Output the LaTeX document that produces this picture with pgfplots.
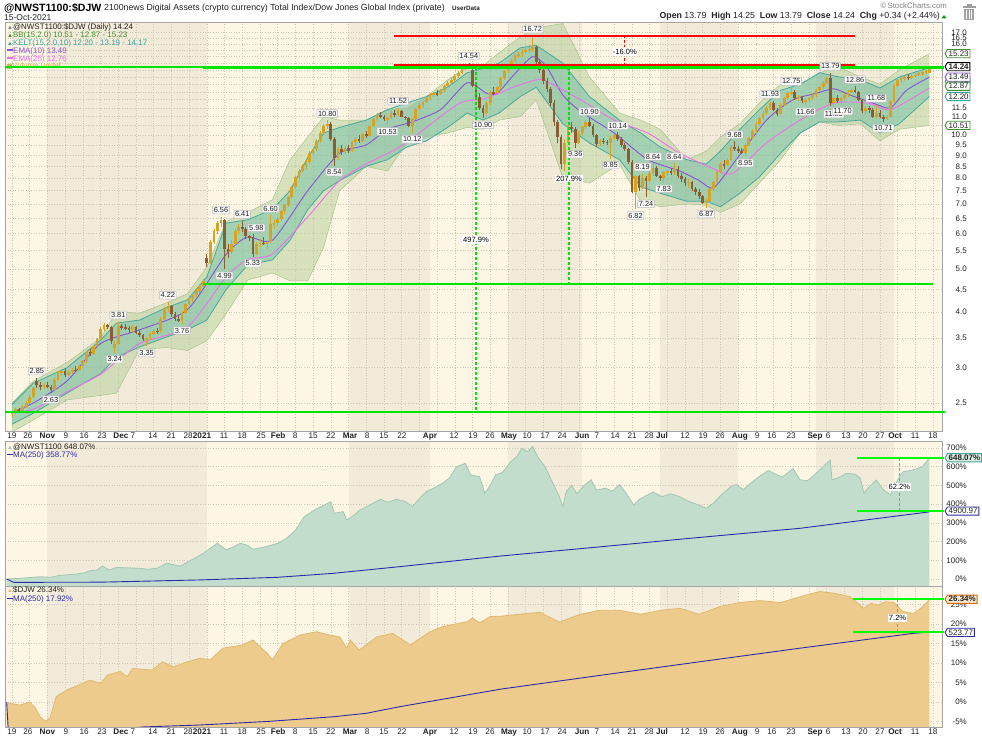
\documentclass[border=0pt]{standalone}
\usepackage{fontspec}
\setmainfont{Liberation Sans}
\usepackage{pgfplots}
\pgfplotsset{compat=1.18}
\usepackage{pgfplotstable}
\usetikzlibrary{shapes.symbols}

\definecolor{bglight}{HTML}{FDF6E4}
\definecolor{bgdark}{HTML}{F3EBDA}
\definecolor{gridc}{HTML}{CFC7B5}
\definecolor{upc}{HTML}{D6A322}
\definecolor{dnc}{HTML}{8A5E35}
\definecolor{bbfill}{HTML}{B3CF98}
\definecolor{bbline}{HTML}{A6C48C}
\definecolor{kcfill}{HTML}{5FBAA2}
\definecolor{kcline}{HTML}{46A89E}
\definecolor{emaA}{HTML}{8A52D6}
\definecolor{emaB}{HTML}{EE6FEE}
\definecolor{limeg}{HTML}{00E400}
\definecolor{nwfill}{HTML}{C3DDCC}
\definecolor{nwline}{HTML}{A0C7B3}
\definecolor{djfill}{HTML}{EDCB8C}
\definecolor{djline}{HTML}{E0B96F}
\definecolor{mablue}{HTML}{2B2BAA}
\definecolor{axgray}{HTML}{A5A5A5}
\definecolor{txt}{HTML}{222222}
\definecolor{bbtext}{HTML}{3F8F2F}
\definecolor{kctext}{HTML}{36A3A0}
\definecolor{volc}{HTML}{D9B24A}

\pgfplotstableread{
x o h l c
0.0 2.36 2.40 2.33 2.38
0.2 2.38 2.44 2.36 2.42
0.4 2.42 2.43 2.37 2.39
0.6 2.39 2.47 2.38 2.45
0.8 2.45 2.52 2.44 2.50
1.0 2.50 2.60 2.49 2.58
1.2 2.58 2.72 2.56 2.70
1.4 2.80 2.85 2.70 2.74
1.6 2.74 2.78 2.68 2.72
1.8 2.72 2.77 2.69 2.74
2.0 2.74 2.78 2.70 2.71
2.2 2.71 2.74 2.63 2.68
2.4 2.68 2.84 2.67 2.82
2.6 2.82 2.95 2.80 2.92
2.8 2.92 2.98 2.88 2.95
3.0 2.95 3.00 2.86 2.89
3.2 2.89 2.96 2.87 2.94
3.4 2.94 3.00 2.90 2.97
3.6 2.97 3.02 2.93 2.96
3.8 2.96 3.05 2.95 3.03
4.0 3.03 3.12 3.01 3.10
4.2 3.10 3.28 3.08 3.25
4.4 3.25 3.30 3.18 3.22
4.6 3.22 3.38 3.20 3.35
4.8 3.35 3.50 3.33 3.48
5.0 3.48 3.70 3.46 3.66
5.2 3.66 3.78 3.62 3.74
5.4 3.74 3.77 3.66 3.70
5.6 3.70 3.72 3.40 3.45
5.8 3.32 3.44 3.24 3.40
6.0 3.40 3.81 3.38 3.72
6.2 3.72 3.76 3.64 3.70
6.4 3.70 3.76 3.64 3.68
6.6 3.68 3.72 3.60 3.64
6.8 3.64 3.74 3.60 3.71
7.0 3.71 3.73 3.58 3.60
7.2 3.60 3.64 3.52 3.55
7.4 3.55 3.58 3.45 3.48
7.6 3.48 3.52 3.35 3.50
7.8 3.50 3.60 3.46 3.58
8.0 3.58 3.66 3.55 3.63
8.2 3.63 3.68 3.58 3.62
8.4 3.62 3.90 3.60 3.86
8.6 3.86 4.10 3.84 4.06
8.8 4.06 4.22 4.00 4.12
9.0 4.12 4.15 3.90 3.96
9.2 3.96 4.00 3.82 3.86
9.4 3.86 3.92 3.80 3.84
9.6 3.84 4.02 3.76 3.98
9.8 3.98 4.20 3.96 4.18
10.0 4.18 4.35 4.15 4.30
10.2 4.30 4.40 4.22 4.36
10.4 4.36 4.50 4.32 4.46
10.6 4.46 4.62 4.42 4.58
10.8 4.58 4.75 4.55 4.70
11.0 5.30 5.40 5.05 5.15
11.2 5.15 5.80 5.12 5.75
11.4 5.75 6.15 5.70 6.10
11.6 6.10 6.40 6.00 6.35
11.8 6.35 6.56 6.20 6.45
12.0 6.45 6.48 4.99 5.55
12.2 5.55 5.70 5.30 5.45
12.4 5.45 5.80 5.40 5.70
12.6 5.70 6.15 5.65 6.10
12.8 6.10 6.30 6.00 6.20
13.0 6.20 6.41 6.05 6.15
13.2 6.15 6.20 5.85 5.92
13.4 5.92 5.96 5.78 5.90
13.6 5.90 5.98 5.33 5.40
13.8 5.40 5.75 5.38 5.70
14.0 5.70 5.85 5.60 5.72
14.2 5.72 5.90 5.65 5.70
14.4 5.70 5.80 5.55 5.75
14.6 5.75 6.60 5.72 6.30
14.8 6.30 6.45 6.15 6.35
15.0 6.35 6.55 6.25 6.48
15.2 6.48 6.80 6.42 6.75
15.4 6.75 7.00 6.65 6.95
15.6 6.95 7.30 6.90 7.25
15.8 7.25 7.70 7.20 7.65
16.0 7.65 8.10 7.60 8.05
16.2 8.05 8.40 7.95 8.30
16.4 8.30 8.60 8.20 8.50
16.6 8.50 8.80 8.40 8.70
16.8 8.70 9.20 8.60 9.10
17.0 9.10 9.40 9.00 9.30
17.2 9.30 9.80 9.20 9.70
17.4 9.70 10.20 9.60 10.10
17.6 10.10 10.60 10.00 10.50
17.8 10.50 10.80 10.30 10.60
18.0 10.60 10.70 9.70 9.80
18.2 9.80 9.90 8.54 8.90
18.4 8.90 9.40 8.80 9.30
18.6 9.30 9.50 9.00 9.15
18.8 9.15 9.45 9.05 9.35
19.0 9.35 9.50 9.10 9.20
19.2 9.20 9.70 9.15 9.65
19.4 9.65 9.90 9.50 9.80
19.6 9.80 10.00 9.60 9.70
19.8 9.70 10.10 9.65 10.05
20.0 10.05 10.20 9.85 9.95
20.2 9.95 10.50 9.90 10.45
20.4 10.45 10.90 10.40 10.85
20.6 10.85 11.20 10.75 11.10
20.8 11.10 11.25 10.90 11.00
21.0 11.00 11.10 10.75 10.85
21.2 10.85 11.00 10.53 10.90
21.4 10.90 11.30 10.85 11.20
21.6 11.20 11.35 11.00 11.10
21.8 11.10 11.52 11.05 11.30
22.0 11.30 11.35 10.95 11.00
22.2 11.00 11.05 10.80 10.90
22.4 10.90 11.00 10.40 10.50
22.6 10.50 10.90 10.12 10.85
22.8 10.85 11.50 10.80 11.45
23.0 11.45 11.80 11.40 11.70
23.2 11.70 11.90 11.50 11.85
23.4 11.85 12.20 11.80 12.10
23.6 12.10 12.40 12.00 12.30
23.8 12.30 12.50 12.20 12.40
24.0 12.40 12.60 12.25 12.35
24.2 12.35 12.70 12.30 12.60
24.4 12.60 12.95 12.50 12.85
24.6 12.85 13.20 12.75 13.10
24.8 13.10 13.40 12.95 13.30
25.0 13.30 13.70 13.20 13.60
25.2 13.60 13.90 13.45 13.80
25.4 13.80 14.30 13.70 14.20
25.6 14.20 14.40 14.00 14.30
25.8 14.30 14.54 14.10 14.20
26.0 14.00 14.05 12.80 12.90
26.2 12.90 13.00 12.10 12.20
26.4 12.20 12.40 11.40 11.50
26.6 11.50 11.70 10.90 11.20
26.8 11.20 11.90 11.10 11.80
27.0 11.80 12.60 11.70 12.50
27.2 12.50 12.80 12.30 12.40
27.4 12.40 12.90 12.30 12.80
27.6 12.80 13.50 12.70 13.40
27.8 13.40 14.00 13.30 13.90
28.0 13.90 14.40 13.80 14.30
28.2 14.30 14.80 14.10 14.70
28.4 14.70 15.20 14.60 15.10
28.6 15.10 15.40 14.90 15.20
28.8 15.20 15.60 15.00 15.40
29.0 15.40 15.70 15.20 15.55
29.2 15.55 15.90 15.30 15.60
29.4 15.60 16.72 15.40 15.80
29.6 15.80 15.85 14.40 14.60
29.8 14.60 14.80 13.80 14.00
30.0 14.00 14.20 13.00 13.20
30.2 13.20 13.40 12.50 12.70
30.4 12.70 12.80 11.60 11.80
30.6 11.80 12.00 10.50 10.70
30.8 10.70 10.80 9.60 9.90
31.0 9.90 10.00 8.40 8.60
31.2 8.60 9.80 8.30 9.60
31.4 9.60 10.60 9.50 10.40
31.6 10.40 10.70 10.10 10.30
31.8 10.30 10.40 9.36 9.60
32.0 9.60 10.20 9.55 10.10
32.2 10.10 10.50 10.00 10.40
32.4 10.40 10.80 10.30 10.70
32.6 10.70 10.90 10.40 10.50
32.8 10.50 10.60 9.90 10.00
33.0 10.00 10.05 9.40 9.55
33.2 9.55 9.80 9.45 9.70
33.4 9.70 9.85 9.55 9.65
33.6 9.65 9.75 9.50 9.60
33.8 9.60 9.95 8.85 9.85
34.0 9.85 10.05 9.75 10.00
34.2 10.00 10.14 9.70 9.80
34.4 9.80 9.90 9.40 9.50
34.6 9.50 9.60 9.20 9.30
34.8 9.30 9.35 8.60 8.70
35.0 8.70 8.80 7.40 7.45
35.2 7.45 8.15 6.82 8.10
35.4 8.10 8.15 7.50 7.60
35.6 7.60 8.19 7.55 8.00
35.8 8.00 8.10 7.24 7.90
36.0 7.90 8.30 7.85 8.20
36.2 8.20 8.64 8.10 8.45
36.4 8.45 8.50 8.05 8.10
36.6 8.10 8.15 7.90 8.00
36.8 8.00 8.30 7.83 8.25
37.0 8.25 8.40 8.10 8.30
37.2 8.30 8.45 8.15 8.20
37.4 8.20 8.64 8.15 8.40
37.6 8.40 8.50 8.00 8.10
37.8 8.10 8.20 7.85 7.95
38.0 7.95 8.05 7.70 7.80
38.2 7.80 7.95 7.60 7.85
38.4 7.85 7.90 7.50 7.55
38.6 7.55 7.65 7.35 7.45
38.8 7.45 7.55 7.20 7.30
39.0 7.30 7.35 7.00 7.05
39.2 7.05 7.20 6.87 7.10
39.4 7.10 7.60 7.05 7.55
39.6 7.55 7.90 7.50 7.85
39.8 7.85 8.35 7.80 8.30
40.0 8.30 8.70 8.20 8.60
40.2 8.60 8.80 8.40 8.55
40.4 8.55 8.90 8.50 8.80
40.6 8.80 9.50 8.75 9.40
40.8 9.40 9.68 9.20 9.30
41.0 9.30 9.45 9.10 9.20
41.2 9.20 9.35 9.05 9.10
41.4 9.10 9.60 8.95 9.50
41.6 9.50 9.90 9.45 9.85
41.8 9.85 10.30 9.80 10.20
42.0 10.20 10.70 10.10 10.60
42.2 10.60 11.00 10.50 10.90
42.4 10.90 11.30 10.80 11.20
42.6 11.20 11.60 11.10 11.50
42.8 11.50 11.93 11.40 11.80
43.0 11.80 11.90 11.30 11.40
43.2 11.40 11.50 11.05 11.15
43.4 11.15 11.80 11.10 11.70
43.6 11.70 12.20 11.60 12.10
43.8 12.10 12.50 12.00 12.40
44.0 12.40 12.75 12.30 12.50
44.2 12.50 12.60 12.00 12.10
44.4 12.10 12.30 11.90 12.20
44.6 12.20 12.25 11.80 11.90
44.8 11.90 12.10 11.66 12.00
45.0 12.00 12.20 11.85 12.10
45.2 12.10 12.40 12.00 12.30
45.4 12.30 12.70 12.20 12.60
45.6 12.60 12.90 12.50 12.80
45.8 12.80 13.20 12.70 13.10
46.0 13.10 13.50 13.00 13.40
46.2 13.40 13.79 11.60 11.80
46.4 11.80 12.20 11.53 12.10
46.6 12.10 12.30 11.80 11.95
46.8 11.95 12.20 11.70 12.10
47.0 12.10 12.40 12.00 12.30
47.2 12.30 12.60 12.20 12.50
47.4 12.50 12.70 12.40 12.60
47.6 12.60 12.86 12.40 12.50
47.8 12.50 12.55 11.90 12.00
48.0 12.00 12.05 11.20 11.30
48.2 11.30 11.60 11.10 11.50
48.4 11.50 11.60 11.20 11.40
48.6 11.40 11.50 10.90 11.00
48.8 11.00 11.68 10.90 11.20
49.0 11.20 11.40 10.90 11.00
49.2 11.00 11.10 10.71 10.85
49.4 10.85 11.10 10.80 11.00
49.6 11.00 12.00 10.95 11.90
49.8 11.90 13.00 11.80 12.90
50.0 12.90 13.40 12.80 13.30
50.2 13.30 13.50 13.10 13.40
50.4 13.40 13.60 13.20 13.50
50.6 13.50 13.70 13.30 13.45
50.8 13.45 13.70 13.35 13.60
51.0 13.60 13.80 13.50 13.65
51.2 13.65 13.85 13.55 13.75
51.4 13.75 13.95 13.60 13.85
51.6 13.85 14.00 13.70 13.90
51.8 13.79 14.25 13.79 14.24
}\candles

\pgfplotstableread{
w bbu bbl kcu kcl
0.0 2.50 2.15 2.48 2.24
1.2 2.80 2.29 2.77 2.37
3.1 3.08 2.54 3.00 2.63
5.0 3.50 2.60 3.46 2.91
5.9 4.00 2.63 3.78 3.17
7.2 3.98 3.30 3.84 3.34
8.75 4.20 3.33 4.10 3.52
9.9 4.40 3.28 4.26 3.65
11.0 5.05 3.45 4.80 3.84
12.1 6.40 3.97 6.34 4.50
13.3 6.70 4.72 6.45 5.10
14.7 7.15 4.90 6.80 5.24
15.7 8.80 4.70 7.50 5.80
16.7 9.90 4.70 8.90 6.80
17.6 11.00 5.60 10.10 7.50
18.5 10.80 7.50 10.40 7.90
20.0 10.80 8.50 10.80 8.50
21.2 11.40 8.30 11.40 8.80
22.3 11.50 9.60 11.80 9.40
23.4 12.20 9.90 12.20 9.70
24.6 13.30 10.10 12.80 10.40
25.7 14.20 10.40 13.80 11.20
26.6 14.30 10.30 14.10 10.80
27.5 15.30 10.80 14.50 11.20
28.7 16.60 11.00 15.70 12.20
29.6 17.40 12.00 15.90 12.80
31.1 17.80 8.00 14.50 10.60
32.6 13.50 7.80 12.20 9.60
34.3 11.20 8.60 10.80 8.80
35.5 10.80 7.10 10.10 7.65
36.6 10.30 6.90 9.40 7.40
38.1 8.80 7.00 8.80 7.10
39.2 9.20 6.95 8.60 7.10
40.0 9.90 6.70 9.20 6.90
41.1 10.60 7.00 10.30 7.40
42.2 11.80 7.80 11.40 8.05
43.4 13.00 8.80 12.60 9.10
44.5 13.00 10.10 13.00 10.10
45.6 13.80 10.70 13.80 10.70
46.7 14.20 10.50 13.50 10.70
47.9 13.50 10.60 13.30 10.80
49.0 13.00 9.70 12.75 10.10
50.1 14.00 10.30 13.50 10.60
51.8 15.23 10.51 14.17 12.20
}\bands

\pgfplotstableread{
w e
0.0 2.38
1.2 2.50
3.1 2.80
5.0 3.40
7.2 3.65
9.9 4.05
12.1 5.40
13.3 5.90
14.7 5.80
16.7 7.50
18.5 9.10
20.0 9.50
21.2 10.30
22.6 10.70
24.2 11.40
25.7 13.10
26.8 12.40
27.4 12.40
28.3 13.60
29.4 15.00
30.2 14.20
31.1 12.30
32.1 11.30
34.0 10.10
35.9 8.80
37.7 8.30
38.8 7.90
39.6 7.60
40.7 8.60
42.6 10.80
44.1 12.00
45.4 12.40
46.4 12.70
47.3 12.30
48.6 11.80
49.6 11.50
50.5 12.60
51.8 13.49
}\ematen

\pgfplotstableread{
w e
0.0 2.38
1.2 2.42
3.1 2.65
5.0 2.90
7.2 3.40
9.9 3.70
12.1 4.80
13.3 5.25
14.7 5.40
16.7 6.55
18.5 7.90
20.0 8.60
21.9 9.40
23.4 10.40
25.3 11.80
26.8 12.10
28.3 12.80
29.6 13.30
30.2 13.20
32.1 12.00
34.0 10.80
35.9 10.10
37.7 9.10
39.6 8.40
40.7 8.20
42.6 9.60
44.5 10.80
46.4 11.80
48.3 11.80
49.6 11.40
51.8 12.76
}\ematwentyfive

\pgfplotstableread{
w p
-0.3 0
0.4 3
1.0 8
1.6 12
2.2 9
2.6 18
3.1 22
3.6 26
4.1 33
4.4 44
4.8 48
5.1 69
5.5 48
5.9 62
6.4 60
7.2 57
7.7 52
8.2 58
8.75 84
9.5 69
10.2 105
10.8 137
11.2 165
11.6 191
12.1 155
12.5 172
12.9 191
13.3 180
13.6 159
14.1 168
14.5 177
15.0 190
15.5 218
16.0 260
16.5 333
17.1 370
17.7 399
18.0 413
18.2 351
18.7 360
18.9 315
19.3 340
19.6 365
20.2 395
20.8 426
21.2 410
21.7 426
22.2 415
22.6 386
23.0 430
23.4 467
23.9 490
24.3 511
24.7 540
25.1 600
25.6 618
25.9 556
26.4 547
26.7 458
27.0 500
27.3 556
27.7 570
28.1 620
28.5 655
28.8 700
29.1 680
29.4 708
29.7 650
30.1 600
30.5 520
30.9 440
31.1 385
31.3 470
31.6 500
31.9 455
32.3 500
32.7 530
33.0 475
33.5 485
33.9 470
34.3 505
34.7 455
35.1 395
35.4 425
35.8 445
36.2 465
36.7 440
37.2 455
37.7 440
38.2 415
38.7 398
39.2 378
39.6 405
40.0 445
40.6 495
40.9 505
41.3 478
41.8 520
42.2 548
42.7 580
43.1 560
43.5 545
43.9 575
44.1 590
44.5 530
44.9 525
45.2 547
45.8 600
46.2 636
46.3 529
46.8 547
47.1 565
47.6 560
47.9 538
48.1 458
48.4 493
48.8 529
49.2 476
49.6 449
50.0 529
50.3 573
50.9 583
51.4 600
51.8 648.07
}\nwst

\pgfplotstableread{
w m
-0.3 0
0.1 -18
5.0 -17
10.6 -5
15.0 9
18.1 30
21.9 66
27.6 123
33.0 170
38.0 215
44.5 271
51.8 358.77
}\nwma

\pgfplotstableread{
w p
-0.3 -0.2
0.45 -0.8
1.0 0.0
1.3 -1.4
1.6 -3.8
1.9 -5.0
2.15 -4.0
2.5 1.4
3.1 3.1
3.8 4.4
4.4 5.6
5.0 4.8
5.4 6.9
6.1 7.8
6.5 6.5
6.8 8.6
7.9 8.2
8.5 10.3
9.1 9.0
9.9 10.3
10.6 11.2
11.2 10.8
11.9 13.8
13.0 14.6
13.6 15.9
14.4 12.5
14.7 10.8
15.3 15.0
16.3 17.2
17.2 18.0
17.9 17.2
18.5 16.7
18.9 13.8
19.1 15.9
19.6 13.3
20.6 16.7
21.5 17.6
22.5 14.6
22.9 15.9
23.6 18.0
24.3 19.3
25.7 20.6
26.0 21.5
26.4 20.3
27.0 21.9
27.6 22.0
28.7 22.5
29.8 23.0
30.9 20.5
32.1 22.5
33.2 23.5
34.3 23.5
35.5 22.5
36.6 23.5
37.7 24.0
38.8 22.5
40.0 24.5
41.1 25.5
42.2 26.0
43.4 25.5
44.5 27.0
45.6 28.3
46.4 27.9
47.3 27.0
48.1 24.0
48.5 25.3
48.9 24.8
49.3 25.7
49.8 25.5
50.3 23.2
50.9 22.7
51.4 24.3
51.8 26.34
}\djw

\pgfplotstableread{
w m
-0.3 0
-0.2 -8
5.0 -7.5
7.4 -6.4
10.6 -5.9
14.4 -5.0
18.1 -3.8
20.0 -2.9
21.9 -1.2
27.6 3.3
33.0 6.7
38.0 9.8
44.5 13.8
50.9 17.6
51.8 17.92
}\djma

\tikzset{
  plbl/.style={draw=gray!55, fill=white!96!gray, line width=0.5bp, inner sep=1.2bp,
     font=\fontsize{7.4}{8}\selectfont, text=txt, rounded corners=0.6bp},
  pct/.style={fill=white, inner sep=1bp, font=\fontsize{7.6}{8}\selectfont, text=black},
  rbox/.style={draw=#1, fill=white, line width=0.9bp, inner sep=1.3bp, anchor=west, xshift=2.5bp,
     font=\fontsize{8}{9}\selectfont, text=txt, signal, signal to=west, signal pointer angle=120},
  leg/.style={anchor=base west, inner sep=0pt, font=\fontsize{8}{9}\selectfont},
}
\newcommand{\plhi}[2]{\node[plbl, anchor=south, yshift=2.5bp] at (axis cs:#1,{ln(#2)}) {#2};}
\newcommand{\pllo}[2]{\node[plbl, anchor=north, yshift=-2.5bp] at (axis cs:#1,{ln(#2)}) {#2};}
\newcommand{\monthbands}{%
  \addplot[draw=none, fill=bglight, forget plot] coordinates {(-1,0) (54,0) (54,1) (-1,1)};%
  \addplot[draw=none, fill=bgdark, forget plot] coordinates {(2,0) (11,0) (11,1) (2,1)};%
  \addplot[draw=none, fill=bgdark, forget plot] coordinates {(19,0) (23.6,0) (23.6,1) (19,1)};%
  \addplot[draw=none, fill=bgdark, forget plot] coordinates {(28,0) (32.2,0) (32.2,1) (28,1)};%
  \addplot[draw=none, fill=bgdark, forget plot] coordinates {(36.6,0) (41,0) (41,1) (36.6,1)};%
  \addplot[draw=none, fill=bgdark, forget plot] coordinates {(45.4,0) (49.8,0) (49.8,1) (45.4,1)};%
}

\pgfplotsset{
  bgpanel/.style={scale only axis, width=937bp, xmin=-0.395, xmax=52.51, ymin=0, ymax=1, hide axis},
  panel/.style={
    scale only axis, width=937bp, xmin=-0.395, xmax=52.51,
    clip mode=individual,
    axis line style={draw=axgray, line width=0.6bp},
    major tick length=0pt, minor tick length=0pt,
    minor xtick={0,1,...,52},
    xminorgrids=true, ymajorgrids=true,
    major grid style={draw=gridc, line width=0.5bp, dash pattern=on 1bp off 1.6bp},
    minor grid style={draw=gridc, line width=0.5bp, dash pattern=on 1bp off 1.6bp},
    yticklabel pos=right,
    yticklabel style={anchor=east, xshift=25bp, inner sep=0pt, font=\fontsize{8}{9}\selectfont, text=txt},
    xticklabel style={font=\fontsize{8.2}{9}\selectfont, text=txt, inner sep=1.5bp},
  },
  dates/.style={
    xtick={0,0.9,2,3.05,4.07,5.08,6.15,6.83,7.96,8.98,9.94,10.73,11.97,12.99,14.06,15.02,15.98,17,18.01,19.09,20.05,21,22.02,23.6,24.96,26.03,26.99,28.06,29.08,30.1,31.06,32.19,33.03,34.05,35.01,35.97,36.7,38,39.02,39.98,41.1,42.07,42.91,43.99,45.34,46.08,47.09,48.05,49.01,49.86,50.99,52},
    xticklabels={19,26,\textbf{Nov},9,16,23,\textbf{Dec},7,14,21,28,\textbf{2021},11,18,25,\textbf{Feb},8,15,22,\textbf{Mar},8,15,22,\textbf{Apr},12,19,26,\textbf{May},10,17,24,\textbf{Jun},7,14,21,28,\textbf{Jul},12,19,26,\textbf{Aug},9,16,23,\textbf{Sep},6,13,20,27,\textbf{Oct},11,18},
  },
}

\begin{document}
\begin{tikzpicture}[x=1bp,y=1bp]
\path[use as bounding box] (0,0) rectangle (982,737);
\fill[white] (0,0) rectangle (982,737);

% ---------- header ----------
\node[anchor=base west, inner sep=0pt, font=\bfseries\fontsize{10.6}{12}\selectfont, text=black] at (4,725.5) {@NWST1100:\$DJW};
\node[anchor=base west, inner sep=0pt, font=\fontsize{8.8}{9}\selectfont, text=txt] at (104,726) {2100news Digital Assets (crypto currency) Total Index/Dow Jones Global Index (private)};
\node[anchor=base west, inner sep=0pt, font=\bfseries\fontsize{6.3}{7}\selectfont, text=txt] at (452,726) {UserData};
\node[anchor=base west, inner sep=0pt, font=\fontsize{8.5}{9}\selectfont, text=txt] at (4,716.5) {15-Oct-2021};
\node[anchor=base east, inner sep=0pt, font=\fontsize{7.8}{9}\selectfont, text=gray] at (947,728.5) {\textcopyright\,StockCharts.com};
\node[anchor=base east, inner sep=0pt, font=\fontsize{8.8}{9}\selectfont, text=txt] at (940,718) {\textbf{Open} 13.79 \ \textbf{High} 14.25 \ \textbf{Low} 13.79 \ \textbf{Close} 14.24 \ \textbf{Chg} +0.34 (+2.44\%)};
\fill[green!60!black] (941.5,718.5) -- (946.5,718.5) -- (944,722) -- cycle;
\fill[gray!75] (962.5,729) rectangle (975.5,731);
\fill[gray!75] (966.5,731) rectangle (971.5,733);
\fill[gray!75] (964,716.5) rectangle (974,728.2);
\draw[white, line width=0.8bp] (966.5,718) -- (966.5,727) (969,718) -- (969,727) (971.5,718) -- (971.5,727);

% ---------- month shading behind the three panels ----------
\begin{axis}[bgpanel, at={(5bp,306bp)}, anchor=south west, height=409bp]
\monthbands
\end{axis}
\begin{axis}[bgpanel, at={(5bp,151bp)}, anchor=south west, height=145bp]
\monthbands
\end{axis}
\begin{axis}[bgpanel, at={(5bp,10bp)}, anchor=south west, height=141bp]
\monthbands
\end{axis}

% ---------- main panel: linear in ln(price) ----------
\begin{axis}[panel, dates, at={(5bp,306bp)}, anchor=south west, height=409bp,
  ymin=0.771496, ymax=2.887033,
  ytick={0.916291,1.098612,1.252763,1.386294,1.504077,1.609438,1.704748,1.791759,1.871802,1.945910,2.014903,2.079442,2.140066,2.197225,2.251292,2.302585,2.351375,2.397895,2.442347,2.484907,2.525729,2.564949,2.602690,2.639057,2.674149,2.708050,2.740840,2.772589,2.803360,2.833213},
  yticklabels={2.5,3.0,3.5,4.0,4.5,5.0,5.5,6.0,6.5,7.0,7.5,8.0,8.5,9.0,9.5,10.0,,11.0,11.5,,,,,,,,,16.0,16.5,17.0},
]
% Bollinger band fill (stacked)
\addplot[draw=none, forget plot, stack plots=y] table[x=w, y expr={ln(\thisrow{bbl})}]{\bands};
\addplot[fill=bbfill, fill opacity=0.5, draw=none, forget plot, stack plots=y] table[x=w, y expr={ln(\thisrow{bbu})-ln(\thisrow{bbl})}]{\bands} \closedcycle;
% Keltner channel fill (stacked)
\addplot[draw=none, forget plot, stack plots=y] table[x=w, y expr={ln(\thisrow{kcl})-ln(\thisrow{bbu})}]{\bands};
\addplot[fill=kcfill, fill opacity=0.42, draw=none, forget plot, stack plots=y] table[x=w, y expr={ln(\thisrow{kcu})-ln(\thisrow{kcl})}]{\bands} \closedcycle;
% band edges
\addplot[bbline, line width=0.5bp, forget plot] table[x=w, y expr={ln(\thisrow{bbu})}]{\bands};
\addplot[bbline, line width=0.5bp, forget plot] table[x=w, y expr={ln(\thisrow{bbl})}]{\bands};
\addplot[kcline, line width=0.8bp, forget plot] table[x=w, y expr={ln(\thisrow{kcu})}]{\bands};
\addplot[kcline, line width=0.8bp, forget plot] table[x=w, y expr={ln(\thisrow{kcl})}]{\bands};
% EMAs
\addplot[emaA, line width=0.9bp, smooth, tension=0.4, forget plot] table[x=w, y expr={ln(\thisrow{e})}]{\ematen};
\addplot[emaB, line width=0.9bp, smooth, tension=0.4, forget plot] table[x=w, y expr={ln(\thisrow{e})}]{\ematwentyfive};

% legend
\node[leg, text=txt] at ([xshift=2bp,yshift=-7.5bp]rel axis cs:0,1) {\textcolor{gray}{\fontsize{6}{7}\selectfont ▲}@NWST1100:\$DJW (Daily) 14.24};
\node[leg, text=bbtext] at ([xshift=2bp,yshift=-15.3bp]rel axis cs:0,1) {{\fontsize{6}{7}\selectfont ▲}BB(15,2.0) 10.51 - 12.87 - 15.23};
\node[leg, text=kctext] at ([xshift=2bp,yshift=-23.2bp]rel axis cs:0,1) {{\fontsize{6}{7}\selectfont ▲}KELT(15,2.0,10) 12.20 - 13.19 - 14.17};
\node[leg, text=emaA] at ([xshift=2bp,yshift=-31.2bp]rel axis cs:0,1) {\rule[2.5bp]{6bp}{1.2bp}EMA(10) 13.49};
\node[leg, text=emaB] at ([xshift=2bp,yshift=-39.2bp]rel axis cs:0,1) {\rule[2.5bp]{6bp}{1.2bp}EMA(25) 12.76};
\node[leg, text=volc] at ([xshift=2bp,yshift=-47bp]rel axis cs:0,1) {\rule{5bp}{5bp}Volume undef};

% candle wicks
\addplot[forget plot, draw=none, mark=none,
  error bars/.cd, y dir=both, y explicit, error mark=none, error bar style={draw=upc, line width=0.7bp}]
  table[x=x, y expr={(ln(\thisrow{h})+ln(\thisrow{l}))/2},
        y error expr={\thisrow{c}>=\thisrow{o} ? (ln(\thisrow{h})-ln(\thisrow{l}))/2 : 0}]{\candles};
\addplot[forget plot, draw=none, mark=none,
  error bars/.cd, y dir=both, y explicit, error mark=none, error bar style={draw=dnc, line width=0.7bp}]
  table[x=x, y expr={(ln(\thisrow{h})+ln(\thisrow{l}))/2},
        y error expr={\thisrow{c}<\thisrow{o} ? (ln(\thisrow{h})-ln(\thisrow{l}))/2 : 0}]{\candles};
% candle bodies
\addplot[forget plot, draw=none, mark=none,
  error bars/.cd, y dir=both, y explicit, error mark=none, error bar style={draw=upc, line width=2.7bp}]
  table[x=x, y expr={(ln(\thisrow{o})+ln(\thisrow{c}))/2},
        y error expr={\thisrow{c}>=\thisrow{o} ? max((ln(\thisrow{c})-ln(\thisrow{o}))/2,0.0015) : 0}]{\candles};
\addplot[forget plot, draw=none, mark=none,
  error bars/.cd, y dir=both, y explicit, error mark=none, error bar style={draw=dnc, line width=2.7bp}]
  table[x=x, y expr={(ln(\thisrow{o})+ln(\thisrow{c}))/2},
        y error expr={\thisrow{c}<\thisrow{o} ? (ln(\thisrow{o})-ln(\thisrow{c}))/2 : 0}]{\candles};

% annotation lines
\draw[limeg, line width=1.2bp] (axis cs:-0.395,{ln(14.22)}) -- (axis cs:10.78,{ln(14.22)});
\draw[limeg, line width=3bp] (axis cs:10.78,{ln(14.18)}) -- (axis cs:52.6,{ln(14.18)});
\draw[red, line width=1.8bp] (axis cs:21.57,{ln(14.36)}) -- (axis cs:47.6,{ln(14.36)});
\draw[red, line width=1.8bp] (axis cs:21.57,{ln(16.72)}) -- (axis cs:47.6,{ln(16.72)});
\draw[red, line width=1.3bp, dash pattern=on 2.5bp off 2bp] (axis cs:34.6,{ln(16.72)}) -- (axis cs:34.6,{ln(14.36)});
\node[pct] at (axis cs:34.6,{ln(15.36)}) {-16.0\%};
\draw[limeg, line width=2bp] (axis cs:10.78,{ln(4.625)}) -- (axis cs:52.0,{ln(4.625)});
\draw[limeg, line width=1.6bp] (axis cs:-0.395,{ln(2.385)}) -- (axis cs:52.7,{ln(2.385)});
\draw[limeg, line width=1.4bp, dash pattern=on 3bp off 2bp] (axis cs:26.2,{ln(14.2)}) -- (axis cs:26.2,{ln(2.385)});
\node[pct] at (axis cs:26.2,{ln(5.81)}) {497.9\%};
\draw[limeg, line width=1.4bp, dash pattern=on 3bp off 2bp] (axis cs:31.45,{ln(14.2)}) -- (axis cs:31.45,{ln(4.625)});
\node[pct] at (axis cs:31.45,{ln(7.98)}) {207.9\%};

% price labels
\plhi{1.4}{2.85} \pllo{2.2}{2.63} \plhi{6.0}{3.81} \pllo{5.8}{3.24} \pllo{7.6}{3.35}
\plhi{8.8}{4.22} \pllo{9.6}{3.76} \plhi{11.8}{6.56} \pllo{12.0}{4.99} \plhi{13.0}{6.41}
\plhi{13.8}{5.98} \pllo{13.6}{5.33} \plhi{14.6}{6.60} \plhi{17.8}{10.80} \pllo{18.2}{8.54}
\plhi{21.8}{11.52} \pllo{21.2}{10.53} \pllo{22.6}{10.12} \plhi{25.8}{14.54} \pllo{26.6}{10.90}
\plhi{29.4}{16.72} \pllo{31.8}{9.36} \plhi{32.6}{10.90} \pllo{33.8}{8.85} \plhi{34.2}{10.14}
\pllo{35.2}{6.82} \plhi{35.6}{8.19} \pllo{35.8}{7.24} \plhi{36.2}{8.64} \plhi{37.4}{8.64}
\pllo{36.8}{7.83} \pllo{39.2}{6.87} \plhi{40.8}{9.68} \pllo{41.4}{8.95} \plhi{42.8}{11.93}
\plhi{44.0}{12.75} \pllo{44.8}{11.66} \plhi{46.2}{13.79} \pllo{46.4}{11.53} \pllo{46.9}{11.70}
\plhi{47.6}{12.86} \plhi{48.8}{11.68} \pllo{49.2}{10.71}

% right value boxes
\node[rbox=kctext] at (axis cs:52.51,{ln(13.19)}) {13.19};
\node[rbox=emaA] at (axis cs:52.51,{ln(13.49)}) {13.49};
\node[rbox=kctext] at (axis cs:52.51,{ln(12.20)}) {12.20};
\node[rbox=bbtext] at (axis cs:52.51,{ln(12.87)}) {12.87};
\node[rbox=bbtext] at (axis cs:52.51,{ln(15.23)}) {15.23};
\node[rbox=black, font=\bfseries\fontsize{8}{9}\selectfont] at (axis cs:52.51,{ln(14.24)}) {14.24};
\node[rbox=bbtext] at (axis cs:52.51,{ln(10.51)}) {10.51};
\end{axis}

% ---------- panel 2: @NWST1100 ----------
\begin{axis}[panel, at={(5bp,151bp)}, anchor=south west, height=145bp,
  ymin=-37.4, ymax=737.6, xtick=\empty,
  ytick={0,100,200,300,400,500,600,700},
  yticklabels={0\%,100\%,200\%,300\%,400\%,500\%,600\%,700\%},
]
\addplot[draw=none, forget plot, stack plots=y] table[x=w, y expr={-60}]{\nwst};
\addplot[fill=nwfill, draw=none, forget plot, stack plots=y] table[x=w, y expr={\thisrow{p}+60}]{\nwst} \closedcycle;
\addplot[nwline, line width=0.8bp, forget plot] table[x=w,y=p]{\nwst};
\addplot[mablue, line width=0.9bp, forget plot] table[x=w,y=m]{\nwma};
\node[leg, text=txt] at ([xshift=2bp,yshift=-8.5bp]rel axis cs:0,1) {\textcolor{nwline}{\fontsize{6}{7}\selectfont ▲}@NWST1100 648.07\%};
\node[leg, text=mablue] at ([xshift=2bp,yshift=-16.8bp]rel axis cs:0,1) {\rule[2.5bp]{6bp}{1.2bp}MA(250) 358.77\%};
\draw[green, line width=2.2bp] (axis cs:47.7,648.07) -- (axis cs:52.6,648.07);
\draw[green, line width=2.2bp] (axis cs:47.7,363) -- (axis cs:52.6,363);
\draw[green, line width=1.6bp, dash pattern=on 3bp off 2bp] (axis cs:50.1,648.07) -- (axis cs:50.1,363);
\node[pct] at (axis cs:50.1,492) {62.2\%};
\node[rbox=mablue] at (axis cs:52.51,363) {4900.97};
\node[rbox=kcline, fill=nwfill!60, font=\bfseries\fontsize{8}{9}\selectfont] at (axis cs:52.51,648.07) {648.07\%};
\end{axis}

% ---------- panel 3: $DJW ----------
\begin{axis}[panel, dates, at={(5bp,10bp)}, anchor=south west, height=141bp,
  ymin=-6.41, ymax=29.74,
  ytick={-5,0,5,10,15,20,25},
  yticklabels={-5\%,0\%,5\%,10\%,15\%,20\%,25\%},
]
\addplot[draw=none, forget plot, stack plots=y] table[x=w, y expr={-10}]{\djw};
\addplot[fill=djfill, draw=none, forget plot, stack plots=y] table[x=w, y expr={\thisrow{p}+10}]{\djw} \closedcycle;
\addplot[djline, line width=0.8bp, forget plot] table[x=w,y=p]{\djw};
\addplot[mablue, line width=0.9bp, forget plot] table[x=w,y=m]{\djma};
\node[leg, text=txt] at ([xshift=2bp,yshift=-7bp]rel axis cs:0,1) {\textcolor{djline}{\fontsize{6}{7}\selectfont ▲}\$DJW 26.34\%};
\node[leg, text=mablue] at ([xshift=2bp,yshift=-15.3bp]rel axis cs:0,1) {\rule[2.5bp]{6bp}{1.2bp}MA(250) 17.92\%};
\draw[green, line width=2.2bp] (axis cs:47.5,26.34) -- (axis cs:52.6,26.34);
\draw[green, line width=2.2bp] (axis cs:47.5,17.86) -- (axis cs:52.6,17.86);
\draw[green, line width=1.6bp, dash pattern=on 3bp off 2bp] (axis cs:50.0,26.34) -- (axis cs:50.0,17.86);
\node[pct] at (axis cs:50.0,21.5) {7.2\%};
\node[rbox=mablue] at (axis cs:52.51,17.86) {523.77};
\node[rbox=orange!85!black, fill=djfill!45, font=\bfseries\fontsize{8}{9}\selectfont] at (axis cs:52.51,26.34) {26.34\%};
\end{axis}
\end{tikzpicture}
\end{document}
